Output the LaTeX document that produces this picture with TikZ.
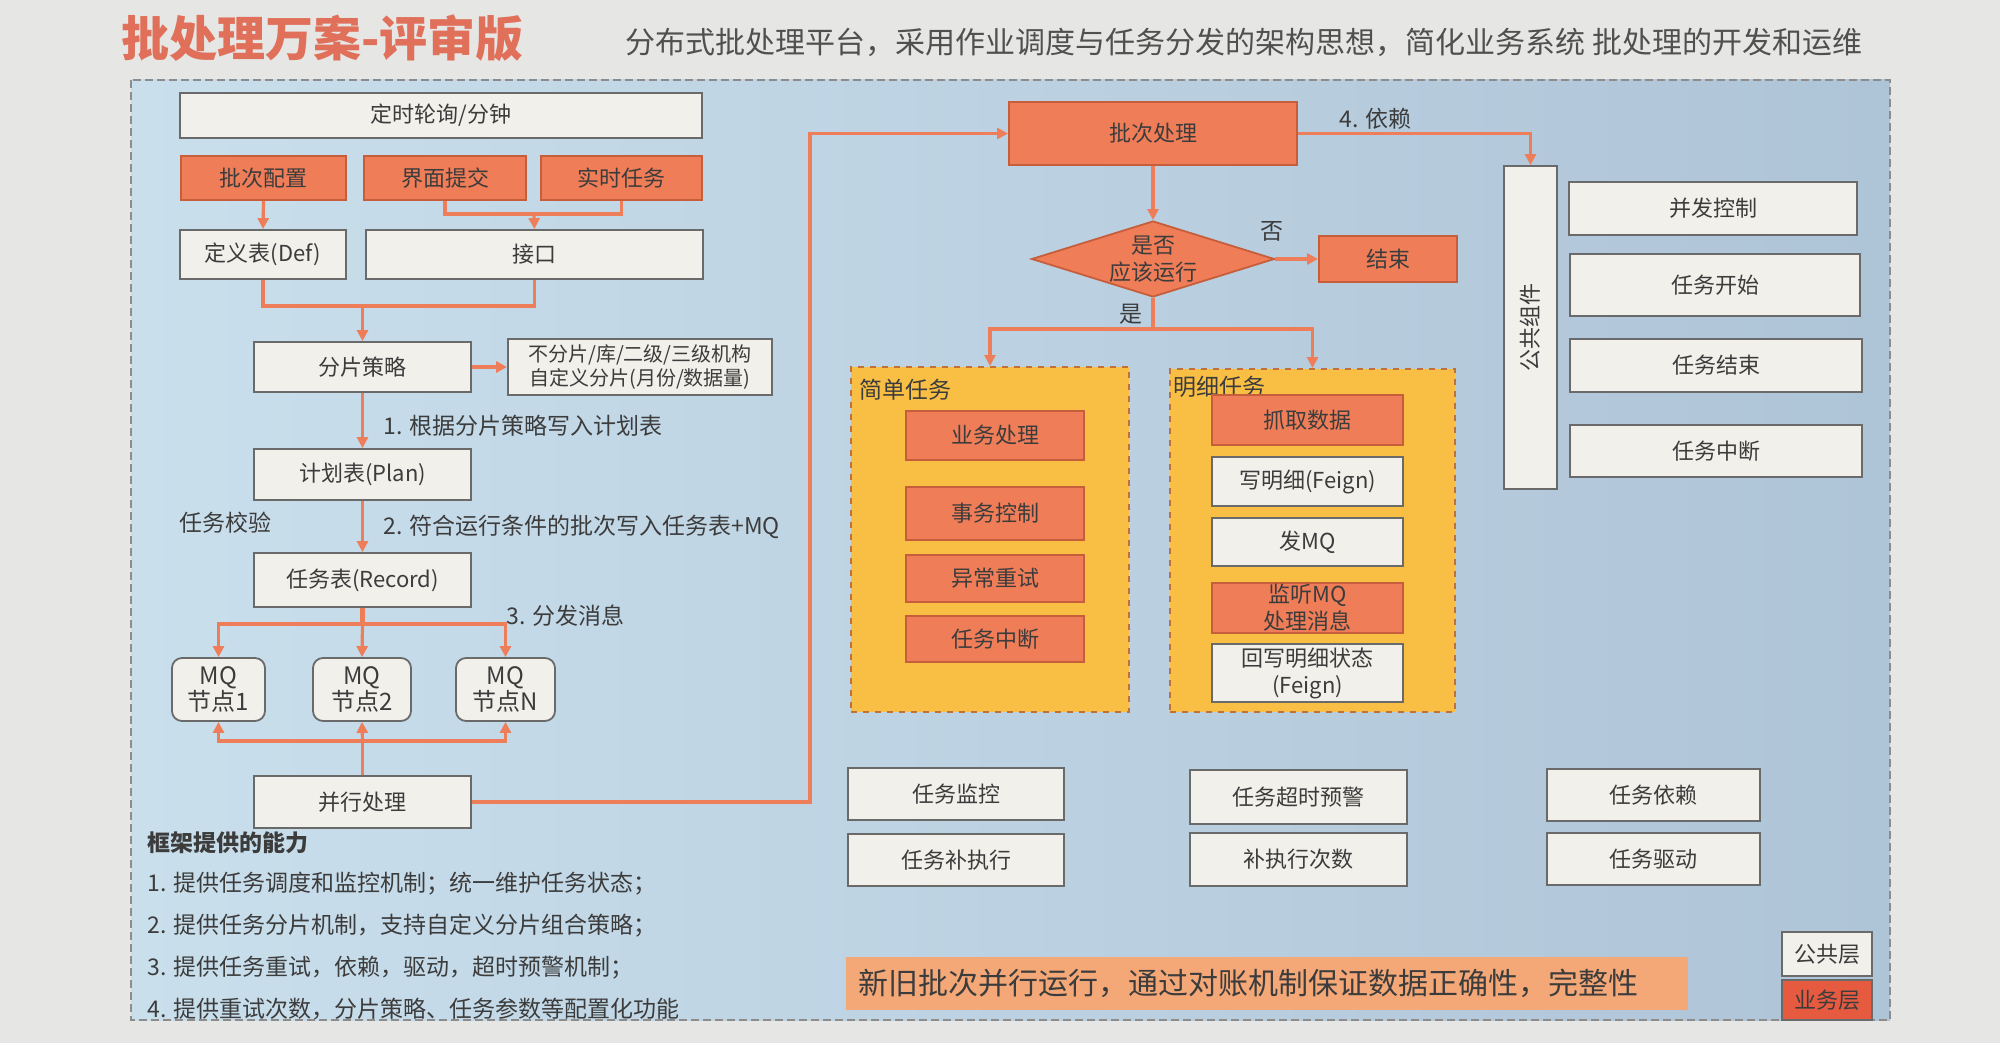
\documentclass[tikz,border=0pt]{standalone}
\usepackage{fontspec}
\setmainfont{Noto Sans CJK SC}
\usetikzlibrary{arrows.meta,shapes.geometric,calc}
\definecolor{pagebg}{HTML}{E6E6E4}
\definecolor{bgL}{HTML}{CADFEC}
\definecolor{bgR}{HTML}{AEC4D7}
\definecolor{framec}{HTML}{8C8C8C}
\definecolor{boxwhite}{HTML}{F2F0EB}
\definecolor{bordergray}{HTML}{6A6A6A}
\definecolor{orangebox}{HTML}{EF7D58}
\definecolor{oborder}{HTML}{C65E3C}
\definecolor{lineor}{HTML}{EE7E5A}
\definecolor{contfill}{HTML}{F9BF45}
\definecolor{contborder}{HTML}{C0703A}
\definecolor{bannerc}{HTML}{F4A878}
\definecolor{legred}{HTML}{E65A40}
\definecolor{txt}{HTML}{3C3C3C}
\definecolor{titlec}{HTML}{E0705A}
\definecolor{subc}{HTML}{505050}
\newcommand\mkbox[7]{\node[#1, minimum width={(#5-#3)*0.5pt}, minimum height={(#6-#4)*0.5pt}] (#2) at ({(#3+#5)/2},{(#4+#6)/2}) {#7};}
\begin{document}
\begin{tikzpicture}[x=0.5pt,y=-0.5pt,
  basefont/.style={font=\fontsize{11}{13.5}\selectfont},
  wbox/.style={draw=bordergray, fill=boxwhite, line width=0.9pt, inner sep=0pt, text=txt, basefont, align=center},
  obox/.style={draw=oborder, fill=orangebox, line width=0.9pt, inner sep=0pt, text=txt, basefont, align=center},
  mqbox/.style={wbox, rounded corners=5pt, font=\fontsize{12}{13}\selectfont},
  cont/.style={draw=contborder, fill=contfill, dashed, line width=1pt, inner sep=0pt},
  lbl/.style={text=txt, inner sep=0pt, font=\fontsize{11.5}{14}\selectfont},
  ln/.style={draw=lineor, line width=1.6pt},
  arr/.style={ln, -{Triangle[length=5.5pt,width=5.5pt]}}
]
\useasboundingbox (0,0) rectangle (2000,1043);
\fill[pagebg] (0,0) rectangle (2000,1043);
\shade[left color=bgL, right color=bgR] (131,80) rectangle (1890,1020);
\draw[framec, line width=1.2pt, dash pattern=on 4pt off 2pt] (131,80) rectangle (1890,1020);

% title
\node[anchor=west, inner sep=0pt, text=titlec, font=\fontsize{24}{28}\selectfont\bfseries] (title) at (121,38) {批处理万案-评审版};
\node[anchor=west, inner sep=0pt, text=subc, font=\fontsize{15}{18}\selectfont] (sub) at (625,42) {分布式批处理平台，采用作业调度与任务分发的架构思想，简化业务系统 批处理的开发和运维};

% left column
\mkbox{wbox}{ds}{180}{93}{702}{138}{定时轮询/分钟}
\mkbox{obox}{pc}{181}{156}{346}{200}{批次配置}
\mkbox{obox}{jm}{364}{156}{526}{200}{界面提交}
\mkbox{obox}{ss}{541}{156}{702}{200}{实时任务}
\mkbox{wbox}{def}{180}{230}{346}{279}{定义表(Def)}
\mkbox{wbox}{jk}{366}{230}{703}{279}{接口}
\mkbox{wbox}{fp}{254}{342}{471}{392}{分片策略}
\mkbox{wbox, font=\fontsize{10}{12}\selectfont}{fpn}{508}{339}{772}{395}{不分片/库/二级/三级机构\\自定义分片(月份/数据量)}
\mkbox{wbox}{plan}{254}{449}{471}{500}{计划表(Plan)}
\mkbox{wbox}{rec}{254}{553}{471}{607}{任务表(Record)}
\mkbox{mqbox}{mq1}{172}{658}{265}{721}{MQ\\节点1}
\mkbox{mqbox}{mq2}{313}{658}{411}{721}{MQ\\节点2}
\mkbox{mqbox}{mqn}{456}{658}{555}{721}{MQ\\节点N}
\mkbox{wbox}{bx}{254}{776}{471}{828}{并行处理}

\coordinate (jA) at (534,214);
\coordinate (jB) at (362.5,306);
\coordinate (jC) at (362.5,624);
\coordinate (jD) at (362.5,741);
\coordinate (c1) at (810,133.5);

\draw[arr] (pc.south) -- (def.north);
\draw[ln] (jm.south) |- (jA) -| (ss.south);
\draw[arr] (jA) -- (jk.north);
\draw[ln] (def.south) |- (jB) -| (jk.south);
\draw[arr] (jB) -- (fp.north);
\draw[arr] (fp.east) -- (fpn.west);
\draw[arr] (fp.south) -- (plan.north);
\draw[arr] (plan.south) -- (rec.north);
\draw[ln, line width=2.8pt] (rec.south) -- (jC);
\draw[arr] (jC) -- (mq2.north);
\draw[arr] (jC) -| (mq1.north);
\draw[arr] (jC) -| (mqn.north);
\draw[ln] (bx.north) -- (jD);
\draw[arr] (jD) -- (mq2.south);
\draw[arr] (jD) -| (mq1.south);
\draw[arr] (jD) -| (mqn.south);

\node[lbl, anchor=west] (l1) at (383,426) {1. 根据分片策略写入计划表};
\node[lbl, anchor=west] (l2) at (383,527) {2. 符合运行条件的批次写入任务表+MQ};
\node[lbl, anchor=west] (l3) at (179,523) {任务校验};
\node[lbl, anchor=west] (l4) at (506,616) {3. 分发消息};

\node[lbl, anchor=west, font=\fontsize{11.5}{14}\selectfont\bfseries] (cap) at (147,843) {框架提供的能力};
\node[lbl, anchor=west] (cl1) at (147,884) {1. 提供任务调度和监控机制；统一维护任务状态；};
\node[lbl, anchor=west] (cl2) at (147,926) {2. 提供任务分片机制，支持自定义分片组合策略；};
\node[lbl, anchor=west] (cl3) at (147,968) {3. 提供任务重试，依赖，驱动，超时预警机制；};
\node[lbl, anchor=west] (cl4) at (147,1009) {4. 提供重试次数，分片策略、任务参数等配置化功能};

% middle
\mkbox{obox}{pb}{1009}{102}{1297}{165}{批次处理}
\node[diamond, draw=oborder, fill=orangebox, line width=0.9pt, inner sep=0pt, minimum width=121.5pt, minimum height=38pt] (dm) at (1153,259) {};
\node[text=txt, basefont, align=center, inner sep=0pt] (dmt) at (dm.center) {是否\\应该运行};
\mkbox{obox}{end}{1319}{236}{1457}{282}{结束}
\mkbox{cont}{simp}{851}{367}{1129}{712}{}
\mkbox{cont}{det}{1170}{369}{1455}{712}{}
\node[lbl, anchor=west] (simpl) at (859,390) {简单任务};
\node[lbl, anchor=west] (detl) at (1173,387) {明细任务};
\mkbox{obox}{s1}{906}{411}{1084}{460}{业务处理}
\mkbox{obox}{s2}{906}{487}{1084}{540}{事务控制}
\mkbox{obox}{s3}{906}{555}{1084}{602}{异常重试}
\mkbox{obox}{s4}{906}{616}{1084}{662}{任务中断}
\mkbox{obox}{d1}{1212}{395}{1403}{445}{抓取数据}
\mkbox{wbox}{d2}{1212}{457}{1403}{506}{写明细(Feign)}
\mkbox{wbox}{d3}{1212}{518}{1403}{566}{发MQ}
\mkbox{obox}{d4}{1212}{583}{1403}{633}{监听MQ\\处理消息}
\mkbox{wbox}{d5}{1212}{644}{1403}{702}{回写明细状态\\(Feign)}

\coordinate (jF) at (1153,329);
\draw[arr] (bx.east) -| (c1) -- (pb.west);
\draw[arr] (pb.south) -- (dm.north);
\draw[arr] (dm.east) -- (end.west);
\draw[ln] (dm.south) -- (jF);
\draw[arr] (jF) -| (simp.north);
\draw[arr] (jF) -| (det.north);
\node[lbl] (no) at (1272,231) {否};
\node[lbl] (yes) at (1131,314) {是};

% right
\mkbox{wbox}{gg}{1504}{166}{1557}{489}{}
\node[text=txt, basefont, rotate=90, inner sep=0pt] (ggt) at (gg.center) {公共组件};
\draw[arr] (pb.east) -| (gg.north);
\node[lbl, anchor=south west] (dep) at (1339,130) {4. 依赖};
\mkbox{wbox}{r1}{1569}{182}{1857}{235}{并发控制}
\mkbox{wbox}{r2}{1570}{254}{1860}{316}{任务开始}
\mkbox{wbox}{r3}{1570}{339}{1862}{392}{任务结束}
\mkbox{wbox}{r4}{1570}{425}{1862}{477}{任务中断}

% bottom
\mkbox{wbox}{b1}{848}{768}{1064}{820}{任务监控}
\mkbox{wbox}{b2}{848}{834}{1064}{886}{任务补执行}
\mkbox{wbox}{b3}{1190}{770}{1407}{824}{任务超时预警}
\mkbox{wbox}{b4}{1190}{833}{1407}{886}{补执行次数}
\mkbox{wbox}{b5}{1547}{769}{1760}{821}{任务依赖}
\mkbox{wbox}{b6}{1547}{833}{1760}{885}{任务驱动}

\mkbox{fill=bannerc, inner sep=0pt}{bn}{846}{957}{1688}{1010}{}
\node[anchor=west, inner sep=0pt, text=txt, font=\fontsize{15}{18}\selectfont] (bnt) at (858,983) {新旧批次并行运行，通过对账机制保证数据正确性，完整性};

\mkbox{wbox}{lg1}{1782}{932}{1872}{976}{公共层}
\mkbox{wbox, fill=legred}{lg2}{1782}{980}{1872}{1020}{业务层}
\end{tikzpicture}
\end{document}
